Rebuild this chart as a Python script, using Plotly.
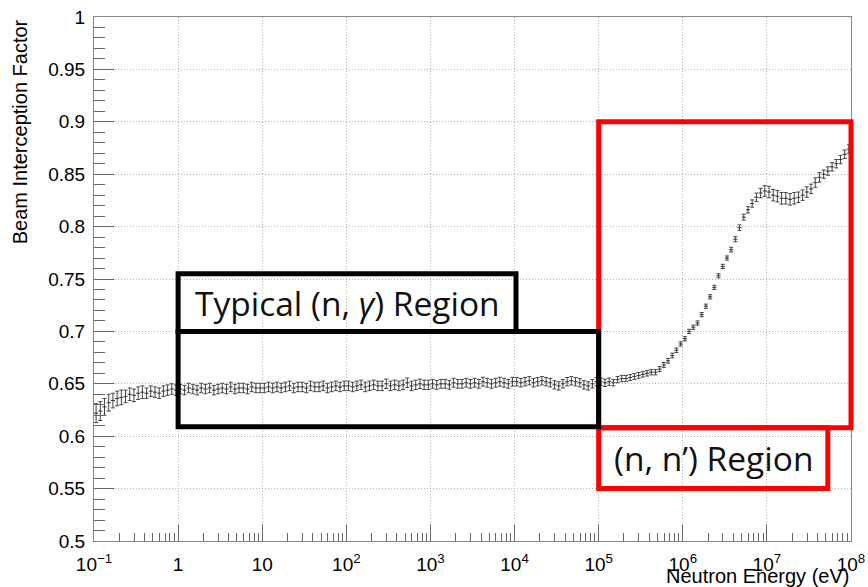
import numpy as np
import plotly.graph_objects as go

# Log-spaced binning: 20 bins per decade from 0.1 eV to 100 MeV
LOG_EMIN, LOG_EMAX, BINS_PER_DECADE = -1.0, 8.0, 20

# Beam interception factor per bin, one list per decade (bin centres)
bif_dec_m1 = [0.622, 0.624, 0.628, 0.632, 0.634, 0.636, 0.637, 0.638, 0.640, 0.639,
              0.641, 0.642, 0.641, 0.643, 0.642, 0.641, 0.643, 0.644, 0.645, 0.644]
bif_dec_0 = [0.645, 0.644, 0.646, 0.645, 0.644, 0.646, 0.645, 0.646, 0.644, 0.645,
             0.646, 0.645, 0.647, 0.645, 0.646, 0.646, 0.645, 0.647, 0.646, 0.646]
bif_dec_1 = [0.646, 0.647, 0.646, 0.647, 0.646, 0.647, 0.648, 0.646, 0.647, 0.647,
             0.646, 0.648, 0.647, 0.647, 0.648, 0.646, 0.647, 0.648, 0.647, 0.648]
bif_dec_2 = [0.648, 0.647, 0.648, 0.649, 0.647, 0.648, 0.649, 0.648, 0.648, 0.650,
             0.648, 0.649, 0.648, 0.649, 0.651, 0.648, 0.649, 0.650, 0.649, 0.649]
bif_dec_3 = [0.650, 0.649, 0.650, 0.650, 0.649, 0.651, 0.650, 0.650, 0.651, 0.650,
             0.651, 0.650, 0.652, 0.651, 0.650, 0.651, 0.652, 0.651, 0.650, 0.652]
bif_dec_4 = [0.652, 0.651, 0.652, 0.653, 0.651, 0.652, 0.653, 0.652, 0.651, 0.649,
             0.648, 0.650, 0.652, 0.653, 0.652, 0.651, 0.649, 0.648, 0.650, 0.652]
bif_dec_5 = [0.652, 0.651, 0.652, 0.651, 0.654, 0.655, 0.655, 0.656, 0.657, 0.658,
             0.659, 0.660, 0.661, 0.661, 0.664, 0.668, 0.672, 0.677, 0.682, 0.688]
bif_dec_6 = [0.693, 0.700, 0.704, 0.708, 0.716, 0.724, 0.733, 0.742, 0.753, 0.762,
             0.770, 0.778, 0.788, 0.799, 0.809, 0.816, 0.822, 0.828, 0.832, 0.834]
bif_dec_7 = [0.833, 0.830, 0.829, 0.827, 0.827, 0.826, 0.827, 0.828, 0.830, 0.833,
             0.836, 0.842, 0.847, 0.850, 0.853, 0.857, 0.860, 0.864, 0.869, 0.874]

# Statistical uncertainty per bin
err_dec_m1 = [0.009, 0.009, 0.008, 0.008, 0.007, 0.007, 0.007, 0.006, 0.006, 0.006,
              0.006, 0.006, 0.005, 0.005, 0.005, 0.005, 0.005, 0.005, 0.005, 0.005]
err_dec_0 = [0.0045] * 20
err_dec_1 = [0.0045] * 20
err_dec_2 = [0.0045] * 20
err_dec_3 = [0.0042] * 20
err_dec_4 = [0.0040] * 20
err_dec_5 = [0.0035, 0.0035, 0.0035, 0.0030, 0.0030, 0.0030, 0.0030, 0.0028, 0.0028, 0.0028,
             0.0026, 0.0026, 0.0025, 0.0025, 0.0024, 0.0023, 0.0022, 0.0022, 0.0021, 0.0020]
err_dec_6 = [0.0020, 0.0020, 0.0020, 0.0020, 0.0020, 0.0020, 0.0020, 0.0020, 0.0020, 0.0020,
             0.0020, 0.0022, 0.0024, 0.0026, 0.0028, 0.0030, 0.0035, 0.0040, 0.0045, 0.0050]
err_dec_7 = [0.0055, 0.0055, 0.0055, 0.0055, 0.0055, 0.0055, 0.0055, 0.0050, 0.0050, 0.0050,
             0.0045, 0.0045, 0.0045, 0.0040, 0.0040, 0.0040, 0.0040, 0.0040, 0.0040, 0.0040]

bif = (bif_dec_m1 + bif_dec_0 + bif_dec_1 + bif_dec_2 + bif_dec_3
       + bif_dec_4 + bif_dec_5 + bif_dec_6 + bif_dec_7)
bif_err = (err_dec_m1 + err_dec_0 + err_dec_1 + err_dec_2 + err_dec_3
           + err_dec_4 + err_dec_5 + err_dec_6 + err_dec_7)

# Axis ticks
x_tick_vals = [1e-1, 1, 1e1, 1e2, 1e3, 1e4, 1e5, 1e6, 1e7, 1e8]
x_tick_text = ["10<sup>\u22121</sup>", "1", "10", "10<sup>2</sup>", "10<sup>3</sup>",
               "10<sup>4</sup>", "10<sup>5</sup>", "10<sup>6</sup>", "10<sup>7</sup>",
               "10<sup>8</sup>"]
y_tick_vals = [0.5, 0.55, 0.6, 0.65, 0.7, 0.75, 0.8, 0.85, 0.9, 0.95, 1.0]
y_tick_text = ["0.5", "0.55", "0.6", "0.65", "0.7", "0.75", "0.8", "0.85", "0.9", "0.95", "1"]
x_minor_vals = [m * 10.0 ** k for k in range(-1, 8) for m in range(2, 10)]

# Region boxes in (energy, factor) coordinates
ngamma_box = dict(e0=1.0, e1=1e5, f0=0.609, f1=0.700)
ngamma_label_box = dict(e0=1.0, e1=1.04e4, f0=0.700, f1=0.755)
nn_box = dict(e0=1e5, e1=1e8, f0=0.608, f1=0.900)
nn_label_box = dict(e0=1e5, e1=5.3e7, f0=0.550, f1=0.608)

# Bin geometry
edges_log = np.linspace(LOG_EMIN, LOG_EMAX, int((LOG_EMAX - LOG_EMIN) * BINS_PER_DECADE) + 1)
centres = 10 ** (0.5 * (edges_log[:-1] + edges_log[1:]))
lo = 10 ** edges_log[:-1]
hi = 10 ** edges_log[1:]

Y0, Y1 = 0.5, 1.0


def px(e):
    return (np.log10(e) - LOG_EMIN) / (LOG_EMAX - LOG_EMIN)


def py(f):
    return (f - Y0) / (Y1 - Y0)


fig = go.Figure()
fig.add_trace(go.Scatter(
    x=centres, y=bif, mode="markers",
    marker=dict(size=1.5, color="#3a3a3a"),
    error_y=dict(type="data", array=bif_err, color="#444444", thickness=1, width=2),
    error_x=dict(type="data", symmetric=False, array=hi - centres, arrayminus=centres - lo,
                 color="#444444", thickness=1, width=0),
    showlegend=False, hoverinfo="x+y",
))

shapes = []


def box(b, color):
    shapes.append(dict(type="rect", xref="paper", yref="paper",
                       x0=px(b["e0"]), x1=px(b["e1"]), y0=py(b["f0"]), y1=py(b["f1"]),
                       line=dict(color=color, width=5), fillcolor="rgba(0,0,0,0)",
                       layer="above"))


box(nn_box, "#ff0000")
box(nn_label_box, "#ff0000")
box(ngamma_box, "#000000")
box(ngamma_label_box, "#000000")

label_font = dict(family="Open Sans", size=33.5, color="#111111")
annotations = [
    dict(text="Typical (n, <i>\u03b3</i>) Region", xref="paper", yref="paper",
         x=0.5 * (px(ngamma_label_box["e0"]) + px(ngamma_label_box["e1"])),
         y=0.5 * (py(ngamma_label_box["f0"]) + py(ngamma_label_box["f1"])),
         xanchor="center", yanchor="middle", showarrow=False, font=label_font),
    dict(text="(n, n\u2019) Region", xref="paper", yref="paper",
         x=0.5 * (px(nn_label_box["e0"]) + px(nn_label_box["e1"])),
         y=0.5 * (py(nn_label_box["f0"]) + py(nn_label_box["f1"])),
         xanchor="center", yanchor="middle", showarrow=False, font=label_font),
    dict(text="Beam Interception Factor", xref="paper", yref="paper",
         x=-0.098, y=1.0, xanchor="center", yanchor="top", textangle=-90,
         showarrow=False, font=dict(family="Liberation Sans", size=20, color="black")),
    dict(text="Neutron Energy (eV)", xref="paper", yref="paper",
         x=1.0, y=-0.0668, xanchor="right", yanchor="middle",
         showarrow=False, font=dict(family="Liberation Sans", size=20, color="black")),
]

axis_common = dict(
    showline=True, linecolor="#888888", linewidth=1, mirror=True,
    ticks="inside", tickcolor="#666666", tickwidth=1,
    showgrid=True, gridcolor="#b4b4b4", griddash="1px,2px", gridwidth=1,
    zeroline=False, automargin=False,
    tickfont=dict(family="Liberation Sans", size=19, color="black"),
)

fig.update_xaxes(
    type="log", range=[LOG_EMIN, LOG_EMAX],
    tickmode="array", tickvals=x_tick_vals, ticktext=x_tick_text, ticklen=16,
    ticklabelstandoff=6,
    minor=dict(tickmode="array", tickvals=x_minor_vals, ticks="inside", ticklen=8,
               tickcolor="#666666", showgrid=False),
    **axis_common,
)
fig.update_yaxes(
    range=[Y0, Y1],
    tickmode="array", tickvals=y_tick_vals, ticktext=y_tick_text, ticklen=20,
    ticklabelstandoff=4,
    minor=dict(dtick=0.01, ticks="inside", ticklen=11, tickcolor="#666666", showgrid=False),
    **axis_common,
)

fig.update_layout(
    width=868, height=587,
    margin=dict(l=94, r=17, t=17, b=46),
    plot_bgcolor="white", paper_bgcolor="white",
    shapes=shapes, annotations=annotations,
)

fig.write_html("out.html")
